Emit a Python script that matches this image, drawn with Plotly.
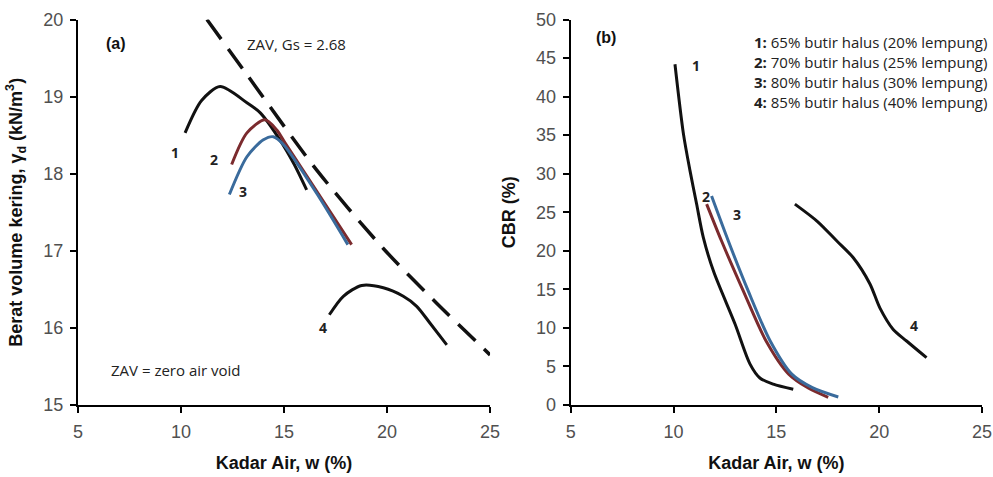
import plotly.graph_objects as go

# ---- (a) compaction curves: water content (%) vs dry unit weight (kN/m3) ----
w1_a = [10.2, 11.0, 11.9, 13.2, 13.85, 14.8, 15.5, 16.1]
g1_a = [18.53, 18.95, 19.13, 18.92, 18.79, 18.44, 18.12, 17.79]

w2_a = [12.46, 13.2, 14.08, 14.64, 15.05, 16.67, 18.28]
g2_a = [18.12, 18.53, 18.70, 18.57, 18.40, 17.74, 17.08]

w3_a = [12.35, 13.2, 14.0, 14.48, 14.97, 16.6, 18.1]
g3_a = [17.73, 18.22, 18.44, 18.48, 18.38, 17.74, 17.08]

w4_a = [17.2, 17.88, 18.77, 19.82, 20.79, 21.44, 22.09, 22.9]
g4_a = [16.17, 16.41, 16.55, 16.52, 16.41, 16.28, 16.06, 15.78]

# zero air void line, Gs = 2.68
w_zav = [11.26, 13.19, 16.58, 19.82, 22.41, 25.0]
g_zav = [20.0, 19.29, 18.05, 17.03, 16.32, 15.65]

# ---- (b) CBR (%) vs water content (%) ----
w1_b = [10.07, 10.48, 10.8, 11.12, 11.45, 11.95, 12.99, 13.72, 14.2, 14.85, 15.82]
c1_b = [44.2, 35.2, 30.4, 26.1, 21.7, 17.3, 10.5, 5.3, 3.5, 2.7, 2.04]

w2_b = [11.61, 12.33, 13.39, 14.5, 15.6, 16.55, 17.52]
c2_b = [26.06, 21.3, 14.8, 8.3, 4.0, 2.2, 1.0]

w3_b = [11.85, 12.66, 13.63, 14.7, 15.75, 16.75, 18.01]
c3_b = [27.1, 21.3, 14.8, 8.3, 4.0, 2.25, 1.04]

w4_b = [15.9, 17.0, 17.93, 18.74, 19.55, 20.03, 20.68, 21.33, 22.3]
c4_b = [26.06, 23.8, 21.3, 19.1, 15.7, 12.6, 9.8, 8.3, 6.14]

legend_lines = [
    ("1", "65% butir halus (20% lempung)"),
    ("2", "70% butir halus (25% lempung)"),
    ("3", "80% butir halus (30% lempung)"),
    ("4", "85% butir halus (40% lempung)"),
]

x_ticks = [5, 10, 15, 20, 25]
ya_ticks = [15, 16, 17, 18, 19, 20]
yb_ticks = [0, 5, 10, 15, 20, 25, 30, 35, 40, 45, 50]

BLACK = "#111111"
RED = "#7b2b2e"
BLUE = "#3a6b9c"
LW = 3

fig = go.Figure()

def curve(x, y, color, xa, ya, width=LW, dash=None):
    fig.add_trace(go.Scatter(
        x=x, y=y, mode="lines", xaxis=xa, yaxis=ya,
        line=dict(color=color, width=width, shape="spline", smoothing=0.8,
                  dash=dash),
        hoverinfo="skip", showlegend=False))

curve(w_zav, g_zav, BLACK, "x", "y", width=3.5, dash="24px,12px")
curve(w1_a, g1_a, BLACK, "x", "y")
curve(w2_a, g2_a, RED, "x", "y")
curve(w3_a, g3_a, BLUE, "x", "y")
curve(w4_a, g4_a, BLACK, "x", "y")

curve(w1_b, c1_b, BLACK, "x2", "y2")
curve(w2_b, c2_b, RED, "x2", "y2")
curve(w3_b, c3_b, BLUE, "x2", "y2")
curve(w4_b, c4_b, BLACK, "x2", "y2")

tick_font = dict(family="Liberation Sans, Arial", size=18, color="#505050")
title_font = dict(family="Liberation Sans, Arial", size=18, color="#111111")

axis_common = dict(
    showline=True, linewidth=2, linecolor="black", mirror=False,
    ticks="outside", ticklen=6, tickwidth=2, tickcolor="black",
    ticklabelstandoff=3,
    showgrid=False, zeroline=False, tickfont=tick_font,
)

fig.update_layout(
    width=993, height=477,
    margin=dict(l=0, r=0, t=0, b=0, autoexpand=False),
    paper_bgcolor="white", plot_bgcolor="white",
    xaxis=dict(domain=[0.0785, 0.4935], range=[5, 25], tickvals=x_ticks,
               anchor="y", **axis_common,
               title=dict(text="<b>Kadar Air, w (%)</b>", font=title_font,
                          standoff=16)),
    yaxis=dict(domain=[0.151, 0.959], range=[15, 20], tickvals=ya_ticks,
               anchor="x", **axis_common,
               title=dict(text="<b>Berat volume kering, γ<sub>d</sub> (kN/m<sup>3</sup>)</b>",
                          font=title_font, standoff=16)),
    xaxis2=dict(domain=[0.5747, 0.989], range=[5, 25], tickvals=x_ticks,
                anchor="y2", **axis_common,
                title=dict(text="<b>Kadar Air, w (%)</b>", font=title_font,
                           standoff=16)),
    yaxis2=dict(domain=[0.151, 0.959], range=[0, 50], tickvals=yb_ticks,
                anchor="x2", **axis_common,
                title=dict(text="<b>CBR (%)</b>", font=title_font, standoff=16)),
)

label_font = dict(family="Open Sans, Noto Sans", size=14, color="#222222")
note_font = dict(family="Open Sans, Noto Sans", size=15, color="#222222")

def note(text, x, y, xref, yref, font, xanchor="center"):
    fig.add_annotation(text=text, x=x, y=y, xref=xref, yref=yref,
                       showarrow=False, font=font, xanchor=xanchor,
                       yanchor="middle")

# panel (a) labels
note("<b>(a)</b>", 6.85, 19.69, "x", "y",
     dict(family="Liberation Sans, Arial", size=16, color="#111111"))
note("ZAV, Gs = 2.68", 13.1, 19.68, "x", "y", note_font, xanchor="left")
note("ZAV = zero air void", 6.5, 15.45, "x", "y", note_font, xanchor="left")
note("<b>1</b>", 9.71, 18.27, "x", "y", label_font)
note("<b>2</b>", 11.6, 18.18, "x", "y", label_font)
note("<b>3</b>", 13.0, 17.77, "x", "y", label_font)
note("<b>4</b>", 16.9, 16.01, "x", "y", label_font)

# panel (b) labels
note("<b>(b)</b>", 6.7, 47.7, "x2", "y2",
     dict(family="Liberation Sans, Arial", size=16, color="#111111"))
note("<b>1</b>", 11.09, 44.0, "x2", "y2", label_font)
note("<b>2</b>", 11.6, 27.0, "x2", "y2", label_font)
note("<b>3</b>", 13.08, 24.7, "x2", "y2", label_font)
note("<b>4</b>", 21.7, 10.3, "x2", "y2", label_font)

for i, (num, desc) in enumerate(legend_lines):
    note(f"<b>{num}:</b> {desc}", 13.8, 47.05 - 2.6 * i, "x2", "y2",
         note_font, xanchor="left")

fig.write_html("out.html")
